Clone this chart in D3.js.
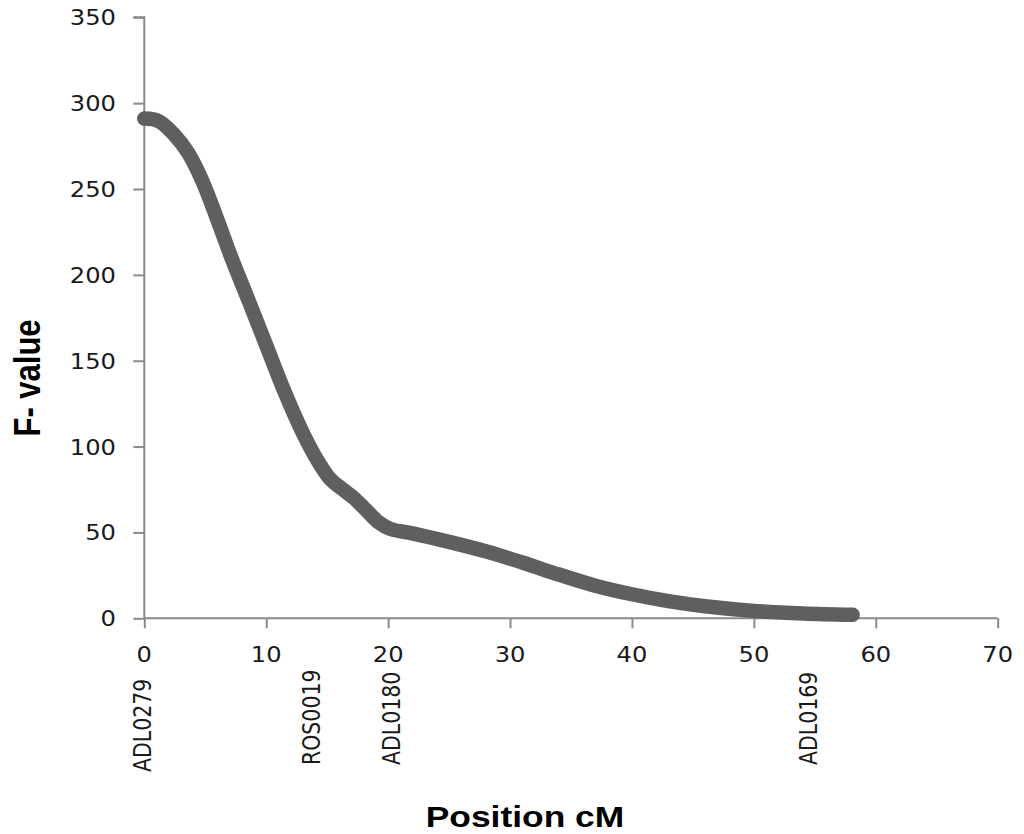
<!DOCTYPE html>
<html>
<head>
<meta charset="utf-8">
<script src="https://cdn.jsdelivr.net/npm/d3@7"></script>
<style>
  html, body { margin: 0; padding: 0; background: #fff; }
  svg { display: block; }
</style>
</head>
<body>
<svg id="chart" width="1024" height="834"></svg>
<script>
// F-value profile along the linkage group
const positions = [0, 1.2, 2.4, 3.6, 4.8, 6.0, 7.2, 8.5, 10.0, 11.5, 13.0, 14.2, 15.2, 16.2, 17.2, 18.2, 19.2, 20.2, 22.0, 25.0, 28.0, 31.0, 34.0, 37.0, 40.0, 43.0, 46.0, 50.0, 54.0, 58.1];
const fValues  = [291, 289.5, 282, 271, 254, 232, 209, 186, 159, 132, 108, 92, 81.5, 75.5, 70, 63, 56, 52, 49.5, 44.5, 39, 32.5, 25.5, 19, 14, 10, 7, 4.3, 2.8, 2];

// Markers placed along the map
const markerNames = ["ADL0279", "ROS0019", "ADL0180", "ADL0169"];
const markerPos   = [0, 13.8, 20.4, 54.6];

// Axis ticks
const xTicks = [0, 10, 20, 30, 40, 50, 60, 70];
const yTicks = [0, 50, 100, 150, 200, 250, 300, 350];

const svg = d3.select("#chart");
const x = d3.scaleLinear().domain([0, 70]).range([144.3, 997.7]);
const y = d3.scaleLinear().domain([0, 350]).range([618.3, 17.3]);
const stretch = 1.18;          // labels are drawn slightly wide
const axisColor = "#8a8a8a";

// axes
const xAxis = svg.append("g")
  .attr("transform", `translate(0,${y(0)})`)
  .call(d3.axisBottom(x).tickValues(xTicks).tickSize(10).tickFormat(""));
const yAxis = svg.append("g")
  .attr("transform", `translate(${x(0)},0)`)
  .call(d3.axisLeft(y).tickValues(yTicks).tickSize(11).tickFormat(""));
[xAxis, yAxis].forEach(g => {
  g.selectAll("path, line").attr("stroke", axisColor).attr("stroke-width", 2);
});
xAxis.select(".domain").attr("d", `M${x(0)},0H${x(70)}`);
yAxis.select(".domain").attr("d", `M-11,${y(350)}H0V${y(0)}`);

const tickFont = "'DejaVu Sans', Verdana, sans-serif";

// y tick labels
svg.append("g").selectAll("text").data(yTicks).join("text")
  .attr("transform", d => `translate(116,${y(d) + 8}) scale(${stretch},1)`)
  .attr("text-anchor", "end")
  .attr("font-family", tickFont)
  .attr("font-size", 20.5)
  .attr("fill", "#1a1a1a")
  .text(d => d);

// x tick labels
svg.append("g").selectAll("text").data(xTicks).join("text")
  .attr("transform", d => `translate(${x(d)},662) scale(${stretch},1)`)
  .attr("text-anchor", "middle")
  .attr("font-family", tickFont)
  .attr("font-size", 20.5)
  .attr("fill", "#1a1a1a")
  .text(d => d);

// marker labels, vertical
svg.append("g").selectAll("text").data(markerNames).join("text")
  .attr("transform", (d, i) => `translate(${x(markerPos[i]) + 7},${i === 0 ? 772 : 765}) scale(${stretch},1) rotate(-90)`)
  .attr("text-anchor", "start")
  .attr("font-family", tickFont)
  .attr("font-size", 20.5)
  .attr("fill", "#1a1a1a")
  .text(d => d);

// profile line, smoothed
const line = d3.line()
  .x((d, i) => x(positions[i]))
  .y(d => y(d))
  .curve(d3.curveCatmullRom.alpha(0.5));
svg.append("path")
  .datum(fValues)
  .attr("d", line)
  .attr("fill", "none")
  .attr("stroke", "#5f5f5f")
  .attr("stroke-width", 14.5)
  .attr("stroke-linecap", "round")
  .attr("stroke-linejoin", "round");

// axis titles
const titleFont = "'Liberation Sans', Arial, sans-serif";
svg.append("text")
  .attr("transform", `translate(525,827) scale(${stretch},1)`)
  .attr("text-anchor", "middle")
  .attr("font-family", titleFont)
  .attr("font-weight", "bold")
  .attr("font-size", 30)
  .attr("fill", "#000")
  .text("Position cM");
svg.append("text")
  .attr("transform", `translate(40,378) scale(${stretch},1) rotate(-90)`)
  .attr("text-anchor", "middle")
  .attr("font-family", titleFont)
  .attr("font-weight", "bold")
  .attr("font-size", 31)
  .attr("fill", "#000")
  .text("F- value");
</script>
</body>
</html>
